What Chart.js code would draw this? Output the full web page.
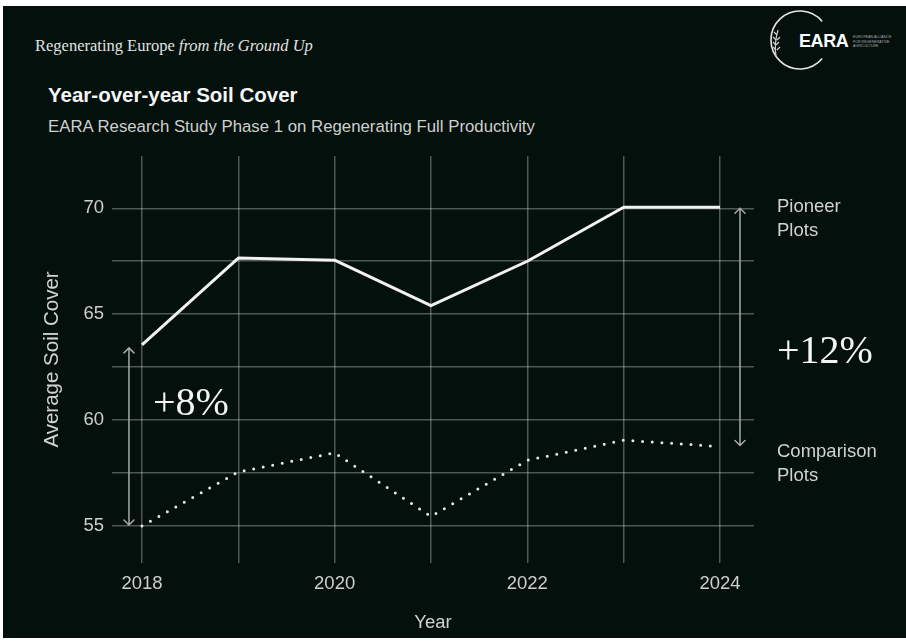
<!DOCTYPE html>
<html><head><meta charset="utf-8">
<script src="https://cdn.jsdelivr.net/npm/chart.js@4.4.1/dist/chart.umd.min.js"></script>
<style>
html,body{margin:0;padding:0;background:#ffffff;width:906px;height:641px;overflow:hidden;}
#bg{position:absolute;left:3px;top:6px;width:903px;height:632px;background:#03100c;}
#wrap{position:absolute;left:0;top:0;width:906px;height:641px;}
.t{position:absolute;white-space:nowrap;line-height:1;}
#tag{left:35px;top:38px;font-family:"Liberation Serif",serif;font-size:16.5px;color:#e2e2e2;}
#tag i{font-style:italic;}
#title{left:48px;top:85px;font-family:"Liberation Sans",Arial,sans-serif;font-weight:bold;font-size:20.5px;color:#f6f6f6;}
#sub{left:48px;top:119px;font-family:"Liberation Sans",Arial,sans-serif;font-size:16.8px;color:#cfcfcf;}
#logo{position:absolute;left:766px;top:6px;width:140px;height:70px;}
#eara{left:799px;top:32px;font-family:"Liberation Sans",Arial,sans-serif;font-weight:bold;font-size:18px;color:#ffffff;letter-spacing:-0.4px;}
#small{left:853px;top:35px;font-family:"Liberation Sans",Arial,sans-serif;font-size:3.6px;line-height:4.6px;color:#a9a9a9;}
</style></head>
<body>
<div id="bg"></div>
<div class="t" id="tag">Regenerating Europe <i>from the Ground Up</i></div>
<div class="t" id="title">Year-over-year Soil Cover</div>
<div class="t" id="sub">EARA Research Study Phase 1 on Regenerating Full Productivity</div>
<svg id="logo" viewBox="766 6 140 70" width="140" height="70">
  <path d="M 822.2 21.4 A 29 29 0 1 0 822.2 58.6" fill="none" stroke="#e8e8e8" stroke-width="1.6"/>
  <g stroke="#cfcfcf" stroke-width="1.2" fill="none">
    <path d="M 776 56 Q 774 44 778 30"/>
    <path d="M 776 50 l -3 -3 M 776 45 l -3 -3 M 776 40 l -3 -3 M 777 35 l -3 -3 M 777 50 l 3 -3 M 776 45 l 3 -3 M 777 40 l 3 -3"/>
  </g>
</svg>
<div class="t" id="eara">EARA</div>
<div class="t" id="small">EUROPEAN ALLIANCE<br>FOR REGENERATIVE<br>AGRICULTURE</div>
<div id="wrap"><canvas id="c" width="906" height="641"></canvas></div>
<script>
// ---- data ----
const years = [2018, 2019, 2020, 2021, 2022, 2023, 2024];
const pioneer = [63.55, 67.65, 67.55, 65.4, 67.5, 70.05, 70.05];
const comparison = [55.0, 57.55, 58.45, 55.45, 58.1, 59.05, 58.75];
const xTicks = [2018, 2019, 2020, 2021, 2022, 2023, 2024];
const xTickLabels = ['2018', '', '2020', '', '2022', '', '2024'];
const yTicks = [55, 57.5, 60, 62.5, 65, 67.5, 70];
const yTickLabels = ['55', '', '60', '', '65', '', '70'];
const seriesNames = [['Pioneer', 'Plots'], ['Comparison', 'Plots']];
const gapLabels = ['+8%', '+12%'];
const gapYearIndex = [0, 6];

const gridColor = 'rgba(255,255,255,0.30)';
const tickColor = '#cfcfcf';
const sans = '"Liberation Sans", Arial, sans-serif';

const annot = {
  id: 'annot',
  afterDraw(chart) {
    const {ctx, scales: {x, y}} = chart;
    ctx.save();
    // gap arrows
    const arrowX = [x.getPixelForValue(years[gapYearIndex[0]]) - 13, x.getPixelForValue(years[gapYearIndex[1]]) + 20];
    ctx.strokeStyle = '#a8a8a8';
    ctx.lineWidth = 1.5;
    ctx.lineCap = 'round';
    gapYearIndex.forEach((idx, k) => {
      const ax = arrowX[k];
      const top = y.getPixelForValue(pioneer[idx]) + (k === 0 ? 3 : 1);
      const bot = y.getPixelForValue(comparison[idx]) - 1;
      ctx.beginPath();
      ctx.moveTo(ax, top); ctx.lineTo(ax, bot);
      ctx.moveTo(ax - 5, top + 5); ctx.lineTo(ax, top); ctx.lineTo(ax + 5, top + 5);
      ctx.moveTo(ax - 5, bot - 5); ctx.lineTo(ax, bot); ctx.lineTo(ax + 5, bot - 5);
      ctx.stroke();
    });
    // gap labels
    ctx.fillStyle = '#f4f4f4';
    ctx.textBaseline = 'alphabetic';
    ctx.textAlign = 'left';
    ctx.font = '40px "Liberation Serif", serif';
    ctx.fillText(gapLabels[0], x.getPixelForValue(years[0]) + 11, y.getPixelForValue(60.24));
    ctx.font = '40px "Liberation Serif", serif';
    ctx.fillText(gapLabels[1], x.right + 23, y.getPixelForValue(62.7));
    // series labels
    ctx.font = '18.5px ' + sans;
    ctx.fillStyle = '#d2d2d2';
    ctx.textBaseline = 'middle';
    const lastIdx = years.length - 1;
    const labelY = [y.getPixelForValue(pioneer[lastIdx]), y.getPixelForValue(comparison[lastIdx]) + 5];
    seriesNames.forEach((lines, k) => {
      lines.forEach((ln, j) => ctx.fillText(ln, x.right + 23, labelY[k] + j * 24));
    });
    ctx.restore();
  }
};

new Chart(document.getElementById('c'), {
  type: 'line',
  data: {
    datasets: [
      {
        label: seriesNames[0].join(' '),
        data: years.map((yr, i) => ({x: yr, y: pioneer[i]})),
        borderColor: '#f2f2f2',
        borderWidth: 3,
        pointRadius: 0,
        tension: 0,
        borderJoinStyle: 'round'
      },
      {
        label: seriesNames[1].join(' '),
        data: years.map((yr, i) => ({x: yr, y: comparison[i]})),
        borderColor: '#e6e6e6',
        borderWidth: 3,
        borderDash: [0, 9.7],
        borderCapStyle: 'round',
        pointRadius: 0,
        tension: 0
      }
    ]
  },
  options: {
    responsive: false,
    animation: false,
    events: [],
    layout: {padding: {left: 0, top: 156, right: 152, bottom: 0}},
    plugins: {legend: {display: false}, tooltip: {enabled: false}},
    scales: {
      x: {
        type: 'linear',
        min: 2017.689,
        max: 2024.353,
        afterBuildTicks: s => { s.ticks = xTicks.map(v => ({value: v})); },
        afterFit: s => { s.height = 78; },
        grid: {color: gridColor, lineWidth: 1.5, drawTicks: false},
        border: {display: false},
        ticks: {
          color: tickColor, padding: 10, autoSkip: false, maxRotation: 0,
          font: {family: sans, size: 18.5},
          callback: (v, i) => xTickLabels[i]
        },
        title: {display: true, text: 'Year', color: '#d2d2d2', font: {family: sans, size: 18.5}, padding: {top: 0, bottom: 7}}
      },
      y: {
        type: 'linear',
        min: 53.25,
        max: 72.47,
        afterBuildTicks: s => { s.ticks = yTicks.map(v => ({value: v})); },
        afterFit: s => { s.width = 112; },
        grid: {color: gridColor, lineWidth: 1.5, drawTicks: false},
        border: {display: false},
        ticks: {
          color: tickColor, padding: 8, autoSkip: false,
          font: {family: sans, size: 18.5},
          callback: (v, i) => yTickLabels[i]
        },
        title: {display: true, text: 'Average Soil Cover', color: '#d2d2d2', font: {family: sans, size: 20.5}, padding: {top: 40, bottom: 0}}
      }
    }
  },
  plugins: [annot]
});
</script>
</body></html>
